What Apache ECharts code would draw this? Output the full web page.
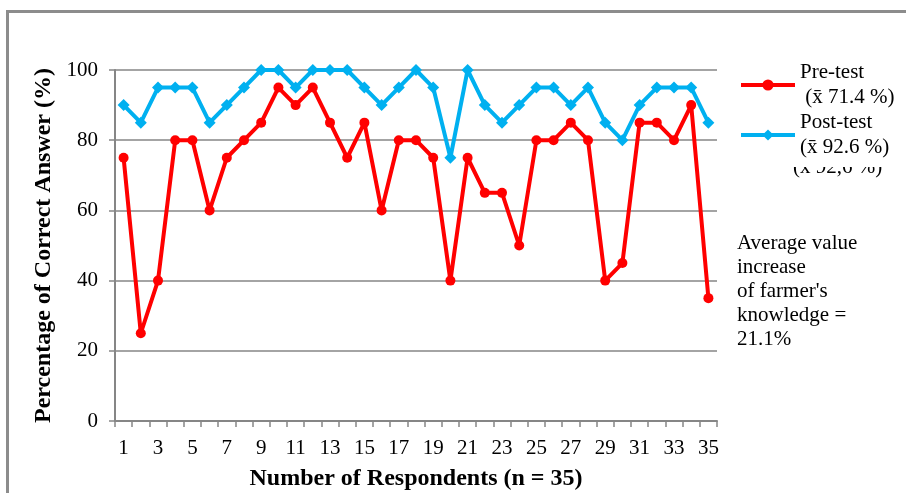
<!DOCTYPE html>
<html>
<head>
<meta charset="utf-8">
<script src="https://cdn.jsdelivr.net/npm/echarts@6/dist/echarts.min.js"></script>
<style>html,body{margin:0;padding:0;background:#fff}#c{width:906px;height:493px}</style>
</head>
<body>
<div id="c"></div>
<script>
const categories = Array.from({length: 35}, (_, i) => String(i + 1));
const preTest = [75,25,40,80,80,60,75,80,85,95,90,95,85,75,85,60,80,80,75,40,75,65,65,50,80,80,85,80,40,45,85,85,80,90,35];
const postTest = [90,85,95,95,95,85,90,95,100,100,95,100,100,100,95,90,95,100,95,75,100,90,85,90,95,95,90,95,85,80,90,95,95,95,85];
const yTicks = [0, 20, 40, 60, 80, 100];
const legendLabels = {'Pre-test': 'Pre-test\n (x\u0304 71.4 %)', 'Post-test': 'Post-test\n(x\u0304 92.6 %)'};
const noteText = "Average value\nincrease\nof farmer's\nknowledge =\n21.1%";

const serif = 'Liberation Serif';
const grey = '#868686';
const chart = echarts.init(document.getElementById('c'));
chart.setOption({
  animation: false,
  backgroundColor: '#fff',
  grid: {left: 115, right: 189, top: 70, bottom: 72, containLabel: false, outerBoundsMode: 'none'},
  legend: {
    orient: 'vertical', left: 734, top: 55, padding: 5,
    itemWidth: 54, itemHeight: 14, itemGap: 0,
    lineStyle: {width: 4},
    formatter: n => legendLabels[n],
    textStyle: {fontFamily: serif, fontSize: 21, color: '#000', lineHeight: 25},
    data: ['Pre-test', 'Post-test'], z: 4
  },
  xAxis: {
    type: 'category', data: categories, boundaryGap: true,
    name: 'Number of Respondents (n = 35)', nameLocation: 'middle', nameGap: 46,
    nameTextStyle: {fontFamily: serif, fontSize: 24, fontWeight: 'bold', color: '#000'},
    axisLine: {lineStyle: {color: grey, width: 2}},
    axisTick: {show: true, interval: 0, length: 6, lineStyle: {color: grey, width: 1.5}},
    axisLabel: {interval: 1, margin: 17, fontFamily: serif, fontSize: 21, color: '#000'}
  },
  yAxis: {
    type: 'value', min: 0, max: 100, interval: 20,
    name: 'Percentage of Correct Answer (%)', nameLocation: 'middle', nameGap: 58,
    nameTextStyle: {fontFamily: serif, fontSize: 24, fontWeight: 'bold', color: '#000'},
    axisLine: {show: true, lineStyle: {color: grey, width: 2}},
    axisTick: {show: true, length: 6, lineStyle: {color: grey, width: 1.5}},
    axisLabel: {margin: 17, fontFamily: serif, fontSize: 21, color: '#000',
      formatter: v => yTicks.includes(v) ? String(v) : ''},
    splitLine: {lineStyle: {color: grey, width: 1.5}}
  },
  series: [
    {name: 'Pre-test', type: 'line', data: preTest, symbol: 'circle', symbolSize: 10, showAllSymbol: true,
      lineStyle: {color: '#FF0000', width: 4}, itemStyle: {color: '#FF0000'}, z: 3},
    {name: 'Post-test', type: 'line', data: postTest, symbol: 'diamond', symbolSize: 12, showAllSymbol: true,
      lineStyle: {color: '#00B0F0', width: 4}, itemStyle: {color: '#00B0F0'}, z: 4}
  ],
  graphic: [
    {type: 'rect', left: 5, top: 9, z: 0, silent: true,
      shape: {width: 930, height: 520}, style: {fill: null, stroke: '#8c8c8c', lineWidth: 3}},
    {type: 'text', left: 737, top: 231, z: 10,
      style: {text: noteText, font: '21px "Liberation Serif"', fill: '#000', lineHeight: 24}},
    {type: 'text', left: 793, top: 157, z: 1,
      style: {text: '(x\u0304 92,6 %)', font: '21px "Liberation Serif"', fill: '#000'}},
    {type: 'rect', left: 780, top: 155, z: 2, silent: true,
      shape: {width: 125, height: 12}, style: {fill: '#fff'}}
  ]
});
</script>
</body>
</html>
